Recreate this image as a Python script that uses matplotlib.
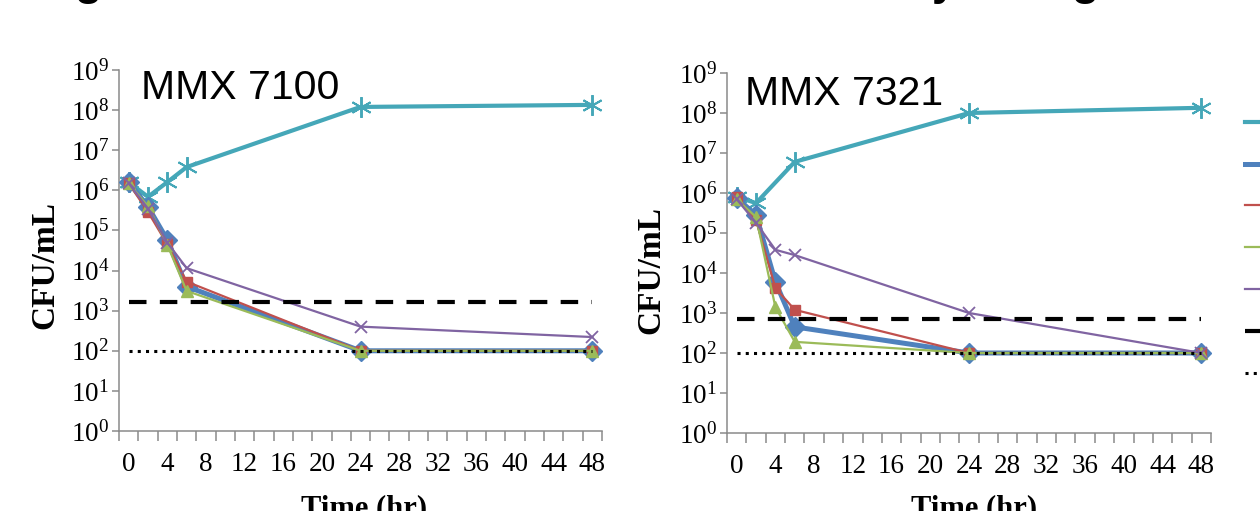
import matplotlib
matplotlib.use("Agg")
import matplotlib.pyplot as plt
from matplotlib.ticker import FixedLocator, NullFormatter, FixedFormatter

plt.rcParams["font.family"] = ["Liberation Serif", "DejaVu Serif"]
plt.rcParams["mathtext.default"] = "regular"

# ---------------- data ----------------
times = [0, 2, 4, 6, 24, 48]
x_ticks = list(range(0, 49, 4))
y_decades = list(range(0, 10))

series_labels = ["Growth control", "Treatment A", "Treatment B", "Treatment C",
                 "Treatment D", "99.9% kill", "Limit of detection"]

# MMX 7100
ctrl_times_7100 = [0, 2, 4, 6, 24, 48]
ctrl_7100 = [1.6e6, 6.9e5, 1.6e6, 3.8e6, 1.2e8, 1.35e8]
blue_7100 = [1.6e6, 3.9e5, 5.8e4, 4.0e3, 100, 100]
red_7100 = [1.5e6, 2.9e5, 4.5e4, 5.3e3, 100, 100]
green_7100 = [1.5e6, 4.0e5, 4.4e4, 3.1e3, 100, 100]
purple_7100 = [1.5e6, 3.5e5, 5.0e4, 1.15e4, 400, 220]
kill_7100 = 1.6e3

# MMX 7321
ctrl_times_7321 = [0, 2, 6, 24, 48]
ctrl_7321 = [8.0e5, 5.6e5, 6.0e6, 1.0e8, 1.35e8]
blue_7321 = [7.5e5, 2.8e5, 6.0e3, 4.5e2, 100, 100]
red_7321 = [8.0e5, 2.1e5, 4.2e3, 1.2e3, 100, 100]
green_7321 = [7.0e5, 2.5e5, 1.4e3, 1.9e2, 100, 100]
purple_7321 = [7.0e5, 1.8e5, 3.8e4, 2.8e4, 1.0e3, 100]
kill_7321 = 7.0e2

lod = 100

panels = [
    ("MMX 7100", ctrl_times_7100, ctrl_7100, blue_7100, red_7100, green_7100, purple_7100, kill_7100),
    ("MMX 7321", ctrl_times_7321, ctrl_7321, blue_7321, red_7321, green_7321, purple_7321, kill_7321),
]

# ---------------- style ----------------
W, H = 1260, 511
C_TEAL = "#45A7B8"
C_BLUE = "#4F81BD"
C_RED = "#C0504D"
C_GREEN = "#9BBB59"
C_PURPLE = "#8064A2"
C_AX = "#8A8A8A"

fig = plt.figure(figsize=(W / 100, H / 100), dpi=100)

# axes rectangles in pixels: (left, top, right, bottom)
rects = [(119, 70, 602, 431), (727, 73, 1211, 433)]
title_pos = [(141, 99), (745, 105)]
ylabel_pos = [(45, 265), (651, 270)]
xlabel_cx = [364, 974]

handles = None
for i, (name, ct, cv, bv, rv, gv, pv, kill) in enumerate(panels):
    l, t, r, b = rects[i]
    ax = fig.add_axes([l / W, 1 - b / H, (r - l) / W, (b - t) / H])
    ax.set_yscale("log")
    ax.set_xlim(-1, 49)
    ax.set_ylim(1, 1e9)

    h1, = ax.plot(ct, cv, color=C_TEAL, lw=3.0, marker=(6, 2, 0), ms=15, mew=1.4, zorder=3)
    h2, = ax.plot(times, bv, color=C_BLUE, lw=3.6, marker="D", ms=10, mec=C_BLUE, zorder=4)
    h3, = ax.plot(times, rv, color=C_RED, lw=1.6, marker="s", ms=7, zorder=5)
    h4, = ax.plot(times, gv, color=C_GREEN, lw=1.6, marker="^", ms=8, zorder=6)
    h5, = ax.plot(times, pv, color=C_PURPLE, lw=1.6, marker="x", ms=9, mew=1.3, zorder=7)
    h6, = ax.plot([times[0], times[-1]], [kill, kill], color="black", lw=3.0,
                  ls=(0, (4.2, 3.2)), dash_capstyle="butt", zorder=8)
    h7, = ax.plot([times[0], times[-1]], [lod, lod], color="black", lw=2.2,
                  ls=(0, (1, 1.7)), dash_capstyle="butt", zorder=9)
    handles = [h1, h2, h3, h4, h5, h6, h7]

    for s in ["top", "right"]:
        ax.spines[s].set_visible(False)
    for s in ["left", "bottom"]:
        ax.spines[s].set_color(C_AX)
        ax.spines[s].set_linewidth(1.1)

    # y axis
    ax.yaxis.set_major_locator(FixedLocator([10.0 ** d for d in y_decades]))
    ax.yaxis.set_major_formatter(FixedFormatter([r"$10^{%d}$" % d for d in y_decades]))
    ax.yaxis.set_minor_locator(FixedLocator([]))
    ax.tick_params(axis="y", which="major", direction="out", length=5, width=1.1,
                   color=C_AX, labelsize=19.5, pad=2)

    # x axis: labels at category centres, tick marks at category boundaries
    ax.xaxis.set_major_locator(FixedLocator(x_ticks))
    ax.xaxis.set_major_formatter(FixedFormatter([str(v) for v in x_ticks]))
    ax.xaxis.set_minor_locator(FixedLocator(list(range(-1, 50, 2))))
    ax.xaxis.set_minor_formatter(NullFormatter())
    ax.tick_params(axis="x", which="major", length=0, labelsize=19.5, pad=15)
    ax.tick_params(axis="x", which="minor", direction="out", length=7, width=1.1, color=C_AX)

    # panel name
    tx, ty = title_pos[i]
    fig.text(tx / W, 1 - ty / H, name, family="Liberation Sans", fontsize=29.5,
             va="baseline", ha="left")
    # y label
    yx, yy = ylabel_pos[i]
    fig.text(yx / W, 1 - yy / H, "CFU/mL", fontsize=24, fontweight="bold",
             rotation=90, ha="center", va="center")
    # x label (partly cut off at the bottom edge)
    fig.text(xlabel_cx[i] / W, 1 - 516 / H, "Time (hr)", fontsize=22, fontweight="bold",
             ha="center", va="baseline")

# legend, mostly outside the canvas on the right
fig.legend(handles, series_labels, loc="upper left",
           bbox_to_anchor=((1245 - 7.8) / W, 1 - 107 / H), borderaxespad=0,
           frameon=False, fontsize=14, handlelength=2.5, labelspacing=1.25)

# fragments of the slide title above the crop
for ch, cx in [("g", 88), ("y", 944), ("g", 1085)]:
    fig.text(cx / W, 1 + 5 / H, ch, family="Liberation Sans", fontweight="bold",
             fontsize=32, ha="center", va="baseline")

fig.savefig("out.png", dpi=100)
